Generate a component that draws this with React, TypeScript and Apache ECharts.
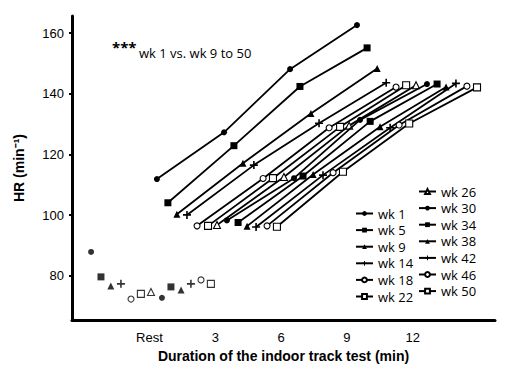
import React, { useEffect, useRef } from "react";
import * as echarts from "echarts";

const weeks = ["wk 1", "wk 5", "wk 9", "wk 14", "wk 18", "wk 22", "wk 26", "wk 30", "wk 34", "wk 38", "wk 42", "wk 46", "wk 50"];

// Rest values (displayed side by side around the "Rest" tick)
const restMin = [-2.66, -2.21, -1.76, -1.3, -0.84, -0.39, 0.07, 0.57, 0.98, 1.44, 1.89, 2.35, 2.8];
const restHR = [87.9, 79.7, 76.7, 77.4, 72.4, 74.1, 74.7, 72.8, 76.4, 75.4, 77.4, 78.7, 77.4];

// Exercise stages (minutes, HR)
const stage1Min = [0.34, 0.84, 1.25, 1.71, 2.17, 2.67, 3.08, 3.53, 4.04, 4.45, 4.86, 5.36, 5.81];
const stage1HR = [111.9, 104.1, 100.3, 100.1, 96.5, 96.5, 96.8, 98.3, 97.6, 96.4, 96.1, 96.5, 96.2];
const stage2Min = [3.4, 3.85, 4.26, 4.76, 5.18, 5.63, 6.13, 6.59, 7.0, 7.46, 7.91, 8.37, 8.82];
const stage2HR = [127.3, 122.9, 117.1, 116.5, 112.1, 112.2, 112.6, 112.2, 112.9, 113.4, 113.2, 114.0, 114.3];
const stage3Min = [6.41, 6.86, 7.36, 7.73, 8.19, 8.69, 9.1, 9.6, 10.06, 10.51, 10.97, 11.38, 11.84];
const stage3HR = [148.1, 142.4, 133.5, 130.3, 128.8, 129.1, 129.5, 131.4, 130.9, 129.1, 128.8, 129.7, 130.2];
const stage4Min = [9.46, 9.92, 10.38, 10.79, 11.24, 11.7, 12.15, 12.65, 13.11, 13.52, 13.97, 14.47, 14.93];
const stage4HR = [162.6, 155.1, 148.3, 143.6, 142.2, 142.8, 142.8, 143.2, 143.2, 142.2, 143.4, 142.5, 142.1];

const yTicks = [80, 100, 120, 140, 160];
const xTicks = [0, 3, 6, 9, 12];
const xTickLabels = ["Rest", "3", "6", "9", "12"];

const PLUS = "path://M3.2,0H4.8V3.2H8V4.8H4.8V8H3.2V4.8H0V3.2H3.2Z";
const markerShapes = ["circle", "rect", "triangle", PLUS, "circle", "rect", "triangle", "circle", "rect", "triangle", PLUS, "circle", "rect"];
const markerFilled = [true, true, true, true, false, false, false, true, true, true, true, false, false];
const markerSizes = [6, 7, 7, 8, 6, 7, 7, 6, 7, 7, 8, 6, 7];

const LEGEND_FONT = "'Open Sans', 'Noto Sans', sans-serif";
const AXIS_FONT = "'Liberation Sans', Arial, sans-serif";

export default function App() {
  const ref = useRef<HTMLDivElement>(null);

  useEffect(() => {
    if (!ref.current) return;
    const chart = echarts.init(ref.current, undefined, { renderer: "svg" });

    const itemStyleFor = (i: number) =>
      markerFilled[i]
        ? { color: "#000", borderWidth: 0 }
        : { color: "#fff", borderColor: "#000", borderWidth: 1.1 };

    const lineSeries = weeks.map((name, i) => ({
      type: "line",
      name,
      data: [
        [stage1Min[i], stage1HR[i]],
        [stage2Min[i], stage2HR[i]],
        [stage3Min[i], stage3HR[i]],
        [stage4Min[i], stage4HR[i]],
      ],
      symbol: markerShapes[i],
      symbolSize: markerSizes[i],
      showAllSymbol: true,
      lineStyle: { color: "#000", width: 1.8 },
      itemStyle: itemStyleFor(i),
      z: 2 + i,
    }));

    const restSeries = weeks.map((name, i) => ({
      type: "scatter",
      name,
      data: [[restMin[i], restHR[i]]],
      symbol: markerShapes[i],
      symbolSize: markerSizes[i],
      itemStyle: itemStyleFor(i),
    }));

    const legendCommon = {
      orient: "vertical",
      itemWidth: 17,
      itemHeight: 6,
      itemGap: 3.6,
      textStyle: { fontFamily: LEGEND_FONT, fontSize: 13, lineHeight: 13, color: "#000" },
      inactiveColor: "#000",
    };

    chart.setOption({
      animation: false,
      grid: { left: 72, right: 16, top: 16, bottom: 60 },
      xAxis: {
        type: "value",
        min: -3.53,
        max: 15.75,
        splitLine: { show: false },
        axisLine: { show: true, onZero: false, lineStyle: { color: "#000", width: 3 } },
        axisTick: { show: false },
        axisLabel: {
          customValues: xTicks,
          margin: 11,
          fontFamily: AXIS_FONT,
          fontSize: 13,
          color: "#000",
          formatter: (v: number) => {
            const idx = xTicks.indexOf(v);
            return idx >= 0 ? xTickLabels[idx] : "";
          },
        },
        name: "Duration of the indoor track test (min)",
        nameLocation: "middle",
        nameGap: 28,
        nameTextStyle: { fontFamily: AXIS_FONT, fontSize: 14, fontWeight: "bold", color: "#000" },
      },
      yAxis: {
        type: "value",
        min: 65.5,
        max: 165.6,
        splitLine: { show: false },
        axisLine: { show: true, onZero: false, lineStyle: { color: "#000", width: 3 } },
        axisTick: { show: true, customValues: yTicks, length: 3, lineStyle: { color: "#000", width: 2 } },
        axisLabel: {
          customValues: yTicks,
          margin: 8,
          fontFamily: AXIS_FONT,
          fontSize: 13,
          color: "#000",
        },
        name: "HR (min⁻¹)",
        nameLocation: "middle",
        nameGap: 46,
        nameTextStyle: { fontFamily: AXIS_FONT, fontSize: 14, fontWeight: "bold", color: "#000" },
      },
      legend: [
        { ...legendCommon, data: weeks.slice(0, 6), left: 350, top: 202 },
        { ...legendCommon, data: weeks.slice(6), left: 413, top: 180 },
      ],
      graphic: [
        {
          type: "text",
          x: 112,
          y: 47,
          style: { text: "***", font: `bold 15px ${LEGEND_FONT}`, fill: "#000", verticalAlign: "middle" },
        },
        {
          type: "text",
          x: 139,
          y: 53,
          style: { text: "wk 1 vs. wk 9 to 50", font: `13px ${LEGEND_FONT}`, fill: "#000", verticalAlign: "middle" },
        },
      ],
      series: [...lineSeries, ...restSeries],
    });

    return () => chart.dispose();
  }, []);

  return <div ref={ref} style={{ position: "absolute", left: 0, top: 0, width: 511, height: 380 }} />;
}
